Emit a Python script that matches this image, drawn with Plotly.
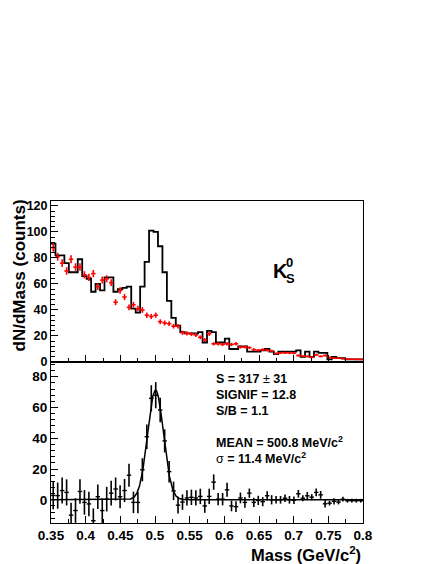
import numpy as np
import plotly.graph_objects as go

# ---------------- data ----------------
BIN_LOW = 0.35
BIN_HIGH = 0.80
N_BINS = 70

# top panel: same-event invariant mass histogram (black step line)
hist_counts = [91, 82, 82, 76, 69, 69, 79, 66, 64, 54,
               60, 55, 65, 65, 54, 56, 57, 58, 41, 38,
               58, 77, 101, 100, 89, 69, 47, 34, 28, 23,
               22, 22, 22, 23, 15, 24, 23, 15, 15, 18,
               10, 10, 12, 12, 8, 8, 8, 9, 10, 8,
               6, 8, 8, 8, 8, 9, 4, 8, 4, 8,
               7, 7, 2, 4, 3, 3, 2, 2, 2, 2]

# top panel: background estimate (red crosses)
bkg_counts = [88, 81, 76, 70, 79, 73, 73, 67, 65, 68,
              58, 63, 64, 61, 46, 55, 50, 42, 44, 41,
              40, 36, 35, 36, 31, 30, 29.5, 27.5, 27.5, 22.5,
              22, 21.5, 20.8, 19, 17, 21.7, 14, 14, 13.5, 14,
              13.5, 14, 11.5, 11.5, 11, 9.5, 9, 9.5, 9, 8.5,
              6.5, 7, 7, 7, 6.8, 5, 4.5, 4.3, 3.6, 5.5,
              4.3, 5, 3.5, 3, 3, 2.5, 2.2, 2.2, 2, 2]
bkg_errors = [3.2, 3, 3, 2.9, 3, 2.9, 2.9, 2.8, 2.8, 2.8,
              2.6, 2.7, 2.7, 2.6, 2.3, 2.5, 2.4, 2.2, 2.2, 2.2,
              2.2, 2.1, 2, 2, 1.9, 1.9, 1.8, 1.8, 1.8, 1.6,
              1.6, 1.6, 1.5, 1.5, 1.4, 1.6, 1.3, 1.3, 1.3, 1.3,
              1.3, 1.3, 1.2, 1.2, 1.1, 1.0, 1.0, 1.0, 1.0, 1.0,
              0.9, 0.9, 0.9, 0.9, 0.9, 0.8, 0.7, 0.7, 0.7, 0.8,
              0.7, 0.8, 0.6, 0.6, 0.6, 0.5, 0.5, 0.5, 0.5, 0.5]

# bottom panel: background-subtracted signal (black crosses)
sig_counts = [2.8, 2.7, 6, 4.8, -10, -7, 5.4, -1.7, -2.7, -13.6,
              2, -7, 0.4, 4.3, 7, 2, 6, 16, -1.7, -1.7,
              19.5, 41, 66, 68, 58.4, 38.3, 18.3, 5.8, -3.5, -1.5,
              1.2, 1.6, 1.2, 2.2, -4, 2.2, 11.5, 0.4, 0.4, 6.5,
              -4, -4.5, 1.2, -1.7, 4.3, -1.7, -0.4, -1.2, 2.6, 0,
              0, 0, 1, 0, -0.3, 3.9, 1, 2.6, 1.7, 4.8,
              3.2, -2.6, -2.2, -1, -1.5, 0.4, -0.6, -0.6, -0.6, -0.6]
sig_errors = [9, 8.5, 8.5, 8.5, 8, 8, 8, 8, 8, 8,
              8, 8, 8, 8, 7.5, 7.5, 7.5, 7.5, 7, 7,
              7.5, 8, 8.5, 8.5, 8, 7.5, 7, 6, 5.5, 5,
              5, 5, 5, 5, 4.5, 5, 5, 4, 4, 4.5,
              3.5, 3.5, 3.5, 3.5, 3, 3, 3, 3, 3, 3,
              2.5, 2.5, 2.5, 2.5, 2.5, 2.5, 2, 2.5, 2, 2.5,
              2.5, 2.5, 1.5, 2, 1.5, 1.5, 1.2, 1.2, 1.2, 1.2]

# fit results quoted on the plot
FIT_S = 317.0          # counts
FIT_MEAN = 0.5008      # GeV/c^2
FIT_SIGMA = 0.0114     # GeV/c^2

x_ticks_labels = ["0.35", "0.4", "0.45", "0.5", "0.55", "0.6", "0.65", "0.7", "0.75", "0.8"]

# ---------------- derived ----------------
edges = np.linspace(BIN_LOW, BIN_HIGH, N_BINS + 1)
centers = 0.5 * (edges[:-1] + edges[1:])
bw = edges[1] - edges[0]
half_w = [bw / 2.0] * N_BINS

step_x = list(edges)
step_y = list(hist_counts) + [hist_counts[-1]]

amp = FIT_S * bw / (FIT_SIGMA * np.sqrt(2 * np.pi))
fx = np.linspace(BIN_LOW, BIN_HIGH, 901)
fy = amp * np.exp(-0.5 * ((fx - FIT_MEAN) / FIT_SIGMA) ** 2)

# ---------------- figure ----------------
W, H = 436, 564
L, R, T, B = 51, 73, 201, 41
PW, PH = W - L - R, H - T - B

def pxx(p):
    return (p - L) / PW

def pxy(p):
    return (H - B - p) / PH

FONT = "Liberation Sans"

fig = go.Figure()

fig.add_trace(go.Scatter(
    x=step_x, y=step_y, mode="lines", line=dict(color="black", width=1.8, shape="hv"),
    xaxis="x", yaxis="y", hoverinfo="skip", showlegend=False))

fig.add_trace(go.Scatter(
    x=centers, y=bkg_counts, mode="markers",
    marker=dict(size=1, color="red", opacity=0),
    error_x=dict(type="data", array=half_w, width=0, thickness=1.6, color="#ff0000"),
    error_y=dict(type="data", array=bkg_errors, width=0, thickness=1.6, color="#ff0000"),
    xaxis="x", yaxis="y", showlegend=False))

fig.add_trace(go.Scatter(
    x=fx, y=fy, mode="lines", line=dict(color="black", width=1.5),
    xaxis="x2", yaxis="y2", hoverinfo="skip", showlegend=False))

fig.add_trace(go.Scatter(
    x=centers, y=sig_counts, mode="markers",
    marker=dict(size=1, color="black", opacity=0),
    error_x=dict(type="data", array=half_w, width=0, thickness=1.4, color="black"),
    error_y=dict(type="data", array=sig_errors, width=0, thickness=1.6, color="black"),
    xaxis="x2", yaxis="y2", showlegend=False))

tickvals = [float(v) for v in x_ticks_labels]

axis_common = dict(showline=True, mirror=True, linecolor="black", linewidth=1,
                   showgrid=False, zeroline=False, ticks="inside", tickcolor="black",
                   tickwidth=1)

fig.update_layout(
    width=W, height=H,
    margin=dict(l=L, r=R, t=T, b=B, pad=0),
    paper_bgcolor="white", plot_bgcolor="white",
    xaxis=dict(domain=[0, 1], anchor="y", range=[BIN_LOW, BIN_HIGH],
               tickvals=tickvals, showticklabels=False, ticklen=7,
               minor=dict(dtick=0.025, tick0=0.35, ticklen=4, ticks="inside", tickcolor="black"),
               **axis_common),
    yaxis=dict(domain=[0.5, 1], anchor="x", range=[0, 123.8], dtick=20, tick0=0,
               ticklen=7,
               minor=dict(dtick=4, tick0=0, ticklen=3.5, ticks="inside", tickcolor="black"),
               tickfont=dict(family=FONT, size=12.5, color="black", weight="bold"),
               **axis_common),
    xaxis2=dict(domain=[0, 1], anchor="y2", range=[BIN_LOW, BIN_HIGH],
                tickvals=tickvals, ticktext=x_ticks_labels, ticklen=7,
                minor=dict(dtick=0.025, tick0=0.35, ticklen=4, ticks="inside", tickcolor="black"),
                tickfont=dict(family=FONT, size=13.5, color="black", weight="bold"),
                **axis_common),
    yaxis2=dict(domain=[0, 0.5], anchor="x2", range=[-15.1, 89.6], dtick=20, tick0=0,
                ticklen=7,
                minor=dict(dtick=4, tick0=0, ticklen=3.5, ticks="inside", tickcolor="black"),
                tickfont=dict(family=FONT, size=13.5, color="black", weight="bold"),
                **axis_common),
)

ann = []
def text(t, x, y, size, xanchor="left", yanchor="middle", angle=0):
    ann.append(dict(text=t, x=x, y=y, xref="paper", yref="paper", showarrow=False,
                    xanchor=xanchor, yanchor=yanchor, textangle=angle,
                    font=dict(family=FONT, size=size, color="black", weight="bold")))

# axis titles
text("dN/dMass (counts)", pxx(18.5), pxy(198), 17, xanchor="center", yanchor="top", angle=-90)
text("Mass (GeV/c<sup>2</sup>)", 1.0, pxy(554), 16.5, xanchor="right", yanchor="middle")

# K0s label
text("K", pxx(271), pxy(270.5), 20, xanchor="left")
text("0", pxx(284), pxy(262), 13, xanchor="left")
text("S", pxx(284), pxy(278), 13, xanchor="left")

# fit statistics
nw = '<span style="font-weight:normal">'
text("S = 317 " + nw + "\u00b1</span> 31", pxx(214), pxy(378.5), 12.5)
text("SIGNIF = 12.8", pxx(214), pxy(395), 12.5)
text("S/B = 1.1", pxx(214), pxy(410.5), 12.5)
text("MEAN = 500.8 MeV/c<sup>2</sup>", pxx(214), pxy(442), 12.5)
text(nw + "\u03c3</span> = 11.4 MeV/c<sup>2</sup>", pxx(214), pxy(458), 12.5)

fig.update_layout(annotations=ann)

# remove the browser's default 8px page margin so the figure sits at the window origin
fig.write_html("out.html",
               config={"displayModeBar": False},
               post_script="document.body.style.margin='0';document.body.style.overflow='hidden';")
